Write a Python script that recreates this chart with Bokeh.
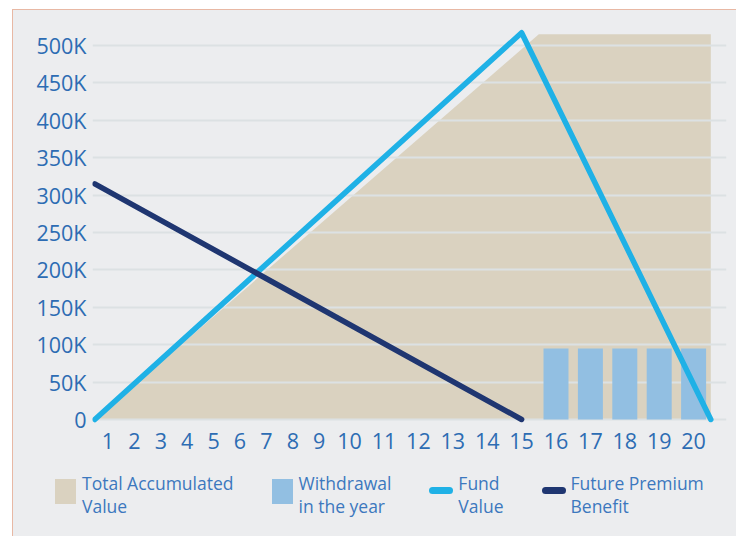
import numpy as np
from bokeh.plotting import figure
from bokeh.layouts import column
from bokeh.models import FixedTicker, Range1d, Div
from bokeh.embed import file_html
from bokeh.resources import INLINE

# ---------------- data ----------------
years = list(range(1, 21))
year_labels = [str(y) for y in years]

yticks = [0, 50000, 100000, 150000, 200000, 250000, 300000, 350000, 400000, 450000, 500000]
ytick_labels = ["0", "50K", "100K", "150K", "200K", "250K", "300K", "350K", "400K", "450K", "500K"]

# Total Accumulated Value (area): start of year 1 -> end of year 15, then flat
accum_years = [0.5, 15.5, 20.5]
accum_values = [0, 515000, 515000]

# Withdrawal in the year (bars)
withdraw_years = [16, 17, 18, 19, 20]
withdraw_values = [95000, 95000, 95000, 95000, 95000]

# Fund Value (line)
fund_years = [0.5, 15, 20.5]
fund_values = [0, 517000, 0]

# Future Premium Benefit (line)
premium_years = [0.5, 15]
premium_values = [315000, 0]

series_names = ["Total Accumulated\nValue", "Withdrawal\nin the year",
                "Fund\nValue", "Future Premium\nBenefit"]
series_kinds = ["box", "box", "line", "line"]

# ---------------- axis layout (slot width grows with label length) ----------------
GAP, CHAR_W = 18.4, 8.0
slot_w = np.array([GAP + CHAR_W * len(l) for l in year_labels])
edges = np.concatenate([[0.0], np.cumsum(slot_w)])
centers = np.round((edges[:-1] + edges[1:]) / 2, 2)


def pos(yrs):
    out = []
    for y in yrs:
        k = int(np.floor(y + 0.5))
        k = min(max(k, 1), len(years))
        out.append(float(edges[k - 1] + (y - k + 0.5) * slot_w[k - 1]))
    return out


# ---------------- colours ----------------
BG = "#ECEDEF"
GRID = "#DCE1E3"
AREA = "#DAD2C0"
BAR = "#92BFE2"
FUND = "#1FB1E6"
PREM = "#1F3671"
TICK_TXT = "#2D6CB3"
LEG_TXT = "#3C78BE"
FONT = "Open Sans"
series_colors = [AREA, BAR, FUND, PREM]

p = figure(
    frame_width=634, frame_height=404,
    output_backend="svg", toolbar_location=None,
    x_range=Range1d(-2.3, 631.7), y_range=Range1d(-6700, 533400),
    background_fill_color=BG, border_fill_color=BG,
    min_border_left=79, min_border_right=10, min_border_top=10, min_border_bottom=44,
    outline_line_color=None,
)
p.grid.visible = False

p.varea(x=pos(accum_years), y1=[0] * len(accum_values), y2=accum_values, fill_color=AREA)
p.hspan(y=yticks, line_color=GRID, line_width=2)
p.vbar(x=pos(withdraw_years), top=withdraw_values, width=25, fill_color=BAR, line_color=None)
p.line(pos(fund_years), fund_values, line_color=FUND, line_width=5.5,
       line_cap="round", line_join="round")
p.line(pos(premium_years), premium_values, line_color=PREM, line_width=5.5,
       line_cap="round", line_join="round")

# axes
p.xaxis.ticker = FixedTicker(ticks=[float(c) for c in centers])
p.xaxis.major_label_overrides = {float(c): l for c, l in zip(centers, year_labels)}
p.yaxis.ticker = FixedTicker(ticks=yticks)
p.yaxis.major_label_overrides = {t: l for t, l in zip(yticks, ytick_labels)}
for ax in (p.xaxis[0], p.yaxis[0]):
    ax.axis_line_color = None
    ax.major_tick_line_color = None
    ax.minor_tick_line_color = None
    ax.major_label_text_color = TICK_TXT
    ax.major_label_text_font = FONT
    ax.major_label_text_font_size = "21.5px"
p.xaxis.major_label_standoff = 2
p.yaxis.major_label_standoff = 0

# ---------------- legend strip under the chart ----------------
items_html = []
for name, kind, col in zip(series_names, series_kinds, series_colors):
    if kind == "box":
        sw = (f'<div style="flex:none;width:21px;height:25px;margin-top:7px;'
              f'background:{col};"></div>')
        gap = 6
    else:
        sw = (f'<div style="flex:none;width:24px;height:7px;margin-top:15px;'
              f'border-radius:3.5px;background:{col};"></div>')
        gap = 5
    txt = name.replace("\n", "<br>")
    items_html.append(
        f'<div style="display:flex;align-items:flex-start;margin-right:38px;">{sw}'
        f'<div style="margin-left:{gap}px;white-space:nowrap;">{txt}</div></div>'
    )
legend_html = (
    f'<div style="display:flex;align-items:flex-start;padding-left:42px;padding-top:4px;'
    f'font-family:\'{FONT}\';font-size:17.5px;line-height:23px;color:{LEG_TXT};">'
    + "".join(items_html) + "</div>"
)
leg = Div(text=legend_html, width=723, height=68,
          styles={"background-color": BG, "margin": "0", "padding": "0"})

page = column(p, leg, spacing=0,
              styles={"margin-left": "12px", "margin-top": "9px",
                      "border-left": "1px solid #E8B8A4", "border-top": "1px solid #E8B8A4",
                      "background-color": BG})

open("out.html", "w").write(file_html(page, INLINE))
